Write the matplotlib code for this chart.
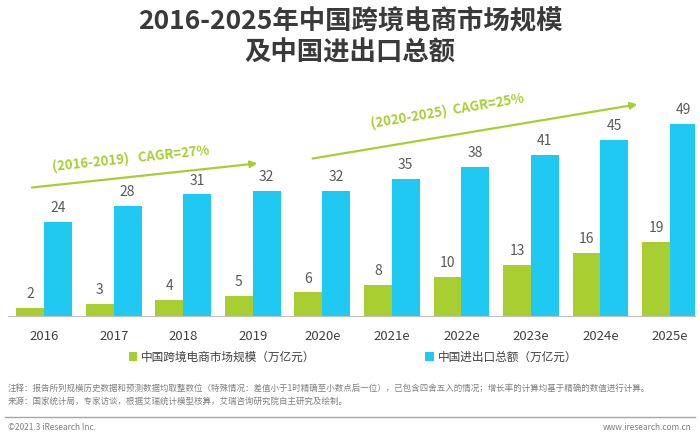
import matplotlib
matplotlib.use("Agg")
import matplotlib.pyplot as plt
import numpy as np

plt.rcParams['font.family'] = ['Noto Sans CJK SC', 'DejaVu Sans']

years = ["2016", "2017", "2018", "2019", "2020e", "2021e", "2022e", "2023e", "2024e", "2025e"]
cross_border = [2, 3, 4, 5, 6, 8, 10, 13, 16, 19]
import_export = [24, 28, 31, 32, 32, 35, 38, 41, 45, 49]

GREEN = "#A9CE32"
BLUE = "#1FC9F2"
LABEL_GREY = "#595959"

fig = plt.figure(figsize=(7, 4.32), dpi=100)
W, H = 700, 432

# axes spans px 8..695 horizontally, baseline at px 316
ax = fig.add_axes([8 / W, 1 - 316 / H, 687 / W, 236 / H])
x = np.arange(len(years))
w = 0.40
ax.bar(x - w / 2, cross_border, w, color=GREEN, label="中国跨境电商市场规模（万亿元）")
ax.bar(x + w / 2, import_export, w, color=BLUE, label="中国进出口总额（万亿元）")

for i in range(len(years)):
    ax.annotate(str(cross_border[i]), (x[i] - w / 2, cross_border[i]), xytext=(0, 5),
                textcoords="offset points", ha="center", va="bottom", fontsize=10, color=LABEL_GREY)
    ax.annotate(str(import_export[i]), (x[i] + w / 2, import_export[i]), xytext=(0, 5),
                textcoords="offset points", ha="center", va="bottom", fontsize=10, color=LABEL_GREY)

ax.set_xlim(-0.52, 9.36)
ax.set_ylim(0, 60.2)
ax.set_xticks(x)
ax.set_xticklabels(years, fontsize=9.5, color="#404040")
ax.tick_params(axis="x", length=0, pad=10)
ax.set_yticks([])
for s in ["top", "right", "left"]:
    ax.spines[s].set_visible(False)
ax.spines["bottom"].set_color("#BFBFBF")

# CAGR arrows
ax.annotate("", xy=(3.105, 39.0), xytext=(-0.216, 32.7),
            arrowprops=dict(arrowstyle="-|>", color=GREEN, lw=1.6, mutation_scale=10))
ax.text(1.25, 40.2, "(2016-2019)   CAGR=27%", rotation=6, color=GREEN, fontsize=9.5,
        fontweight="bold", ha="center", va="center")
ax.annotate("", xy=(8.57, 54.1), xytext=(3.82, 40.05),
        arrowprops=dict(arrowstyle="-|>", color=GREEN, lw=1.6, mutation_scale=10))
ax.text(5.8, 52.3, "(2020-2025)  CAGR=25%", rotation=9.5, color=GREEN, fontsize=9.5,
        fontweight="bold", ha="center", va="center")

# legend
fig.legend(loc="center left", bbox_to_anchor=(118 / W, 1 - 357 / H), ncol=2, frameon=False,
           fontsize=8.4, handlelength=0.7, handleheight=0.7, handletextpad=0.4,
           columnspacing=9.4, labelcolor="#404040")

# title
fig.text(0.5, 1 - 22 / H, "2016-2025年中国跨境电商市场规模", ha="center", va="center",
         fontsize=19, fontweight="bold", color="#3A3A3A")
fig.text(0.5, 1 - 53 / H, "及中国进出口总额", ha="center", va="center",
         fontsize=19, fontweight="bold", color="#3A3A3A")

# notes
fig.text(8 / W, 1 - 388 / H,
         "注释：报告所列规模历史数据和预测数据均取整数位（特殊情况：差值小于1时精确至小数点后一位），已包含四舍五入的情况；增长率的计算均基于精确的数值进行计算。",
         fontsize=6.1, color="#7F7F7F", va="center")
fig.text(8 / W, 1 - 401 / H,
         "来源：国家统计局，专家访谈，根据艾瑞统计模型核算，艾瑞咨询研究院自主研究及绘制。",
         fontsize=6.1, color="#7F7F7F", va="center")
fig.add_artist(plt.Line2D([5 / W, 695 / W], [1 - 417 / H, 1 - 417 / H], color="#A6A6A6", lw=1))
fig.text(8 / W, 1 - 427 / H, "©2021.3 iResearch Inc.", fontsize=6, color="#7F7F7F", va="center")
fig.text(692 / W, 1 - 427 / H, "www.iresearch.com.cn", fontsize=6, color="#7F7F7F",
         va="center", ha="right")

fig.savefig("out.png", dpi=100)
